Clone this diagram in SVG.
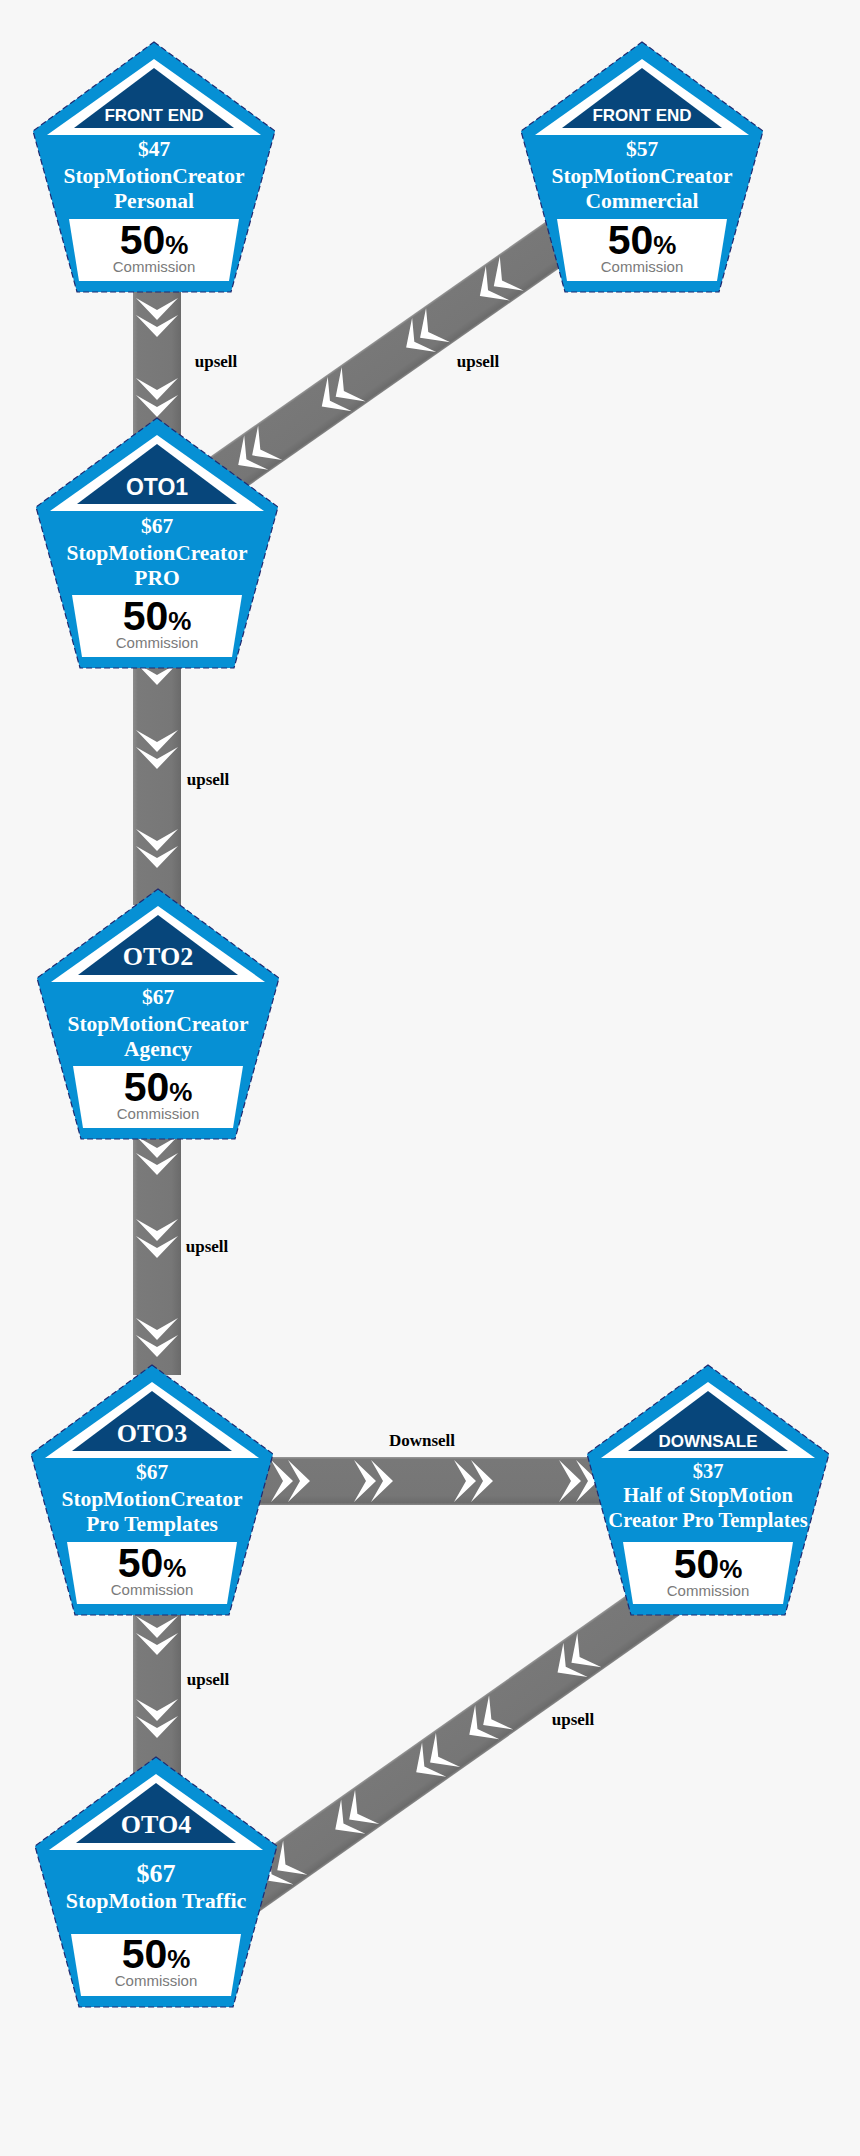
<svg xmlns="http://www.w3.org/2000/svg" xmlns:xlink="http://www.w3.org/1999/xlink" width="860" height="2156" viewBox="0 0 860 2156">
<style>
.outer{fill:#0690d4;stroke:#1f2a70;stroke-width:1.2;stroke-dasharray:6 3}
.wtri{fill:#ffffff}
.ntri{fill:#07467b}
.box{fill:#ffffff}
.ttl-s{font-family:"Liberation Sans",Arial,sans-serif;font-weight:bold;font-size:17px;fill:#ffffff;text-anchor:middle}
.ttl-a{font-family:"Liberation Sans",Arial,sans-serif;font-weight:bold;font-size:23px;fill:#ffffff;text-anchor:middle}
.ttl-t{font-family:"Liberation Serif","Times New Roman",serif;font-weight:bold;font-size:26px;fill:#ffffff;text-anchor:middle}
.body{font-family:"Liberation Serif","Times New Roman",serif;font-weight:bold;font-size:21.5px;fill:#ffffff;text-anchor:middle}
.pct{font-family:"Liberation Sans",Arial,sans-serif;font-weight:bold;font-size:41px;fill:#000000;text-anchor:middle}
.pct tspan{font-size:26px}
.com{font-family:"Liberation Sans",Arial,sans-serif;font-size:15px;fill:#7a7a7a;text-anchor:middle}
.lbl{font-family:"Liberation Serif","Times New Roman",serif;font-weight:bold;font-size:17px;fill:#000000;text-anchor:middle}
.chev{fill:#ffffff}
</style>
<defs>
<linearGradient id="gv" x1="0" y1="0" x2="1" y2="0">
<stop offset="0" stop-color="#8c8c8c"/><stop offset="0.1" stop-color="#7a7a7a"/><stop offset="0.8" stop-color="#777777"/><stop offset="1" stop-color="#6a6a6a"/>
</linearGradient>
<linearGradient id="gh" x1="0" y1="0" x2="0" y2="1">
<stop offset="0" stop-color="#9a9a9a"/><stop offset="0.05" stop-color="#787878"/><stop offset="0.8" stop-color="#767676"/><stop offset="0.95" stop-color="#6b6b6b"/><stop offset="1" stop-color="#8a8a8a"/>
</linearGradient>
<g id="chev2" class="chev">
<path d="M-21,-22 L0,-10 L21,-22 L0,0 Z"/>
<path d="M-21,-39 L0,-27 L21,-39 L0,-17 Z"/>
</g>
<g id="shape">
<path class="outer" d="M0,0 L121,89 L77,250 L-77,250 L-121,89 Z"/>
<path class="wtri" d="M0,17 L107,93 L-107,93 Z"/>
<path class="ntri" d="M0,26 L80,86 L-80,86 Z"/>
<path class="box" d="M-85,177 L85,177 L75,239 L-75,239 Z"/>
</g>
</defs>
<rect x="0" y="0" width="860" height="2156" fill="#f7f7f7"/>

<g id="connectors">
<rect x="133" y="285" width="48" height="150" fill="url(#gv)"/>
<rect x="133" y="660" width="48" height="245" fill="url(#gv)"/>
<rect x="133" y="1130" width="48" height="245" fill="url(#gv)"/>
<rect x="133" y="1610" width="48" height="165" fill="url(#gv)"/>
<use href="#chev2" x="157" y="337"/>
<use href="#chev2" x="157" y="417"/>
<use href="#chev2" x="157" y="685"/>
<use href="#chev2" x="157" y="769"/>
<use href="#chev2" x="157" y="868"/>
<use href="#chev2" x="157" y="1175"/>
<use href="#chev2" x="157" y="1258"/>
<use href="#chev2" x="157" y="1357"/>
<use href="#chev2" x="157" y="1655"/>
<use href="#chev2" x="157" y="1738"/>
<g transform="translate(443,321.7) rotate(-35)">
<rect x="-297" y="-23" width="489" height="46" fill="url(#gh)"/>
<use href="#chev2" transform="translate(-250,0) rotate(90)"/>
<use href="#chev2" transform="translate(-148,0) rotate(90)"/>
<use href="#chev2" transform="translate(-45,0) rotate(90)"/>
<use href="#chev2" transform="translate(45,0) rotate(90)"/>
<use href="#chev2" transform="translate(137,0) rotate(90)"/>
</g>
<rect x="250" y="1457" width="370" height="48" fill="url(#gh)"/>
<use href="#chev2" transform="translate(310,1481) rotate(-90)"/>
<use href="#chev2" transform="translate(393,1481) rotate(-90)"/>
<use href="#chev2" transform="translate(493,1481) rotate(-90)"/>
<use href="#chev2" transform="translate(598,1481) rotate(-90)"/>
<g transform="translate(627,1623.6) rotate(-35.2)">
<rect x="-523" y="-23.5" width="612" height="47" fill="url(#gh)"/>
<use href="#chev2" transform="translate(-445,0) rotate(90)"/>
<use href="#chev2" transform="translate(-357,0) rotate(90)"/>
<use href="#chev2" transform="translate(-258,0) rotate(90)"/>
<use href="#chev2" transform="translate(-193,0) rotate(90)"/>
<use href="#chev2" transform="translate(-85,0) rotate(90)"/>
</g>
<text class="lbl" x="216" y="367">upsell</text>
<text class="lbl" x="478" y="367">upsell</text>
<text class="lbl" x="208" y="785">upsell</text>
<text class="lbl" x="207" y="1252">upsell</text>
<text class="lbl" x="208" y="1685">upsell</text>
<text class="lbl" x="573" y="1725">upsell</text>
<text class="lbl" x="422" y="1446">Downsell</text>
</g>

<g id="node-fe47" transform="translate(154,42)">
<use href="#shape"/>
<text class="ttl-s" x="0" y="79">FRONT END</text>
<text class="body" x="0" y="114">$47</text>
<text class="body" x="0" y="141">StopMotionCreator</text>
<text class="body" x="0" y="166">Personal</text>
<text class="pct" x="0" y="212">50<tspan>%</tspan></text>
<text class="com" x="0" y="230">Commission</text>
</g>

<g id="node-fe57" transform="translate(642,42)">
<use href="#shape"/>
<text class="ttl-s" x="0" y="79">FRONT END</text>
<text class="body" x="0" y="114">$57</text>
<text class="body" x="0" y="141">StopMotionCreator</text>
<text class="body" x="0" y="166">Commercial</text>
<text class="pct" x="0" y="212">50<tspan>%</tspan></text>
<text class="com" x="0" y="230">Commission</text>
</g>

<g id="node-oto1" transform="translate(157,418)">
<use href="#shape"/>
<text class="ttl-a" x="0" y="77">OTO1</text>
<text class="body" x="0" y="115">$67</text>
<text class="body" x="0" y="142">StopMotionCreator</text>
<text class="body" x="0" y="167">PRO</text>
<text class="pct" x="0" y="212">50<tspan>%</tspan></text>
<text class="com" x="0" y="230">Commission</text>
</g>

<g id="node-oto2" transform="translate(158,889)">
<use href="#shape"/>
<text class="ttl-t" x="0" y="76">OTO2</text>
<text class="body" x="0" y="115">$67</text>
<text class="body" x="0" y="142">StopMotionCreator</text>
<text class="body" x="0" y="167">Agency</text>
<text class="pct" x="0" y="212">50<tspan>%</tspan></text>
<text class="com" x="0" y="230">Commission</text>
</g>

<g id="node-oto3" transform="translate(152,1365)">
<use href="#shape"/>
<text class="ttl-t" x="0" y="77">OTO3</text>
<text class="body" x="0" y="114">$67</text>
<text class="body" x="0" y="141">StopMotionCreator</text>
<text class="body" x="0" y="166">Pro Templates</text>
<text class="pct" x="0" y="212">50<tspan>%</tspan></text>
<text class="com" x="0" y="230">Commission</text>
</g>

<g id="node-downsale" transform="translate(708,1365)">
<use href="#shape"/>
<text class="ttl-s" x="0" y="82">DOWNSALE</text>
<text class="body" x="0" y="113" style="font-size:20.5px">$37</text>
<text class="body" x="0" y="137" style="font-size:20.5px">Half of StopMotion</text>
<text class="body" x="0" y="162" style="font-size:20.5px">Creator Pro Templates</text>
<text class="pct" x="0" y="213">50<tspan>%</tspan></text>
<text class="com" x="0" y="231">Commission</text>
</g>

<g id="node-oto4" transform="translate(156,1757)">
<use href="#shape"/>
<text class="ttl-t" x="0" y="76">OTO4</text>
<text class="body" x="0" y="125" style="font-size:26px">$67</text>
<text class="body" x="0" y="151" style="font-size:22px">StopMotion Traffic</text>
<text class="pct" x="0" y="211">50<tspan>%</tspan></text>
<text class="com" x="0" y="229">Commission</text>
</g>
</svg>
